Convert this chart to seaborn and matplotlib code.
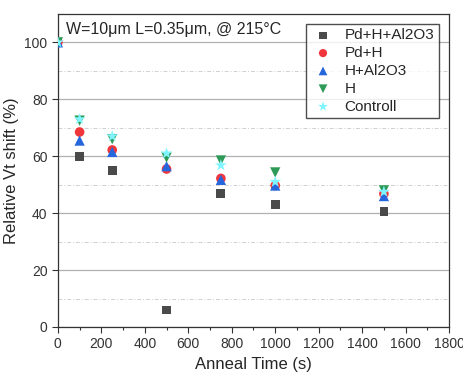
import numpy as np
import pandas as pd
import matplotlib
matplotlib.use("Agg")
import matplotlib.pyplot as plt
import seaborn as sns
from matplotlib.ticker import MultipleLocator

times = [0, 100, 250, 500, 750, 1000, 1500]
pd_h_al2o3 = [100, 60, 55, 6, 47, 43, 40.5]
pd_h = [100, 68.5, 62.2, 55.5, 52.2, 49.7, 46.8]
h_al2o3 = [100, 65.5, 61.5, 56.5, 51.7, 49.7, 46.0]
h_only = [100, 72.5, 66, 59.5, 58.5, 54.3, 48.0]
controll = [100, 73, 67, 61, 56.8, 51, 47.5]

series_names = ["Pd+H+Al2O3", "Pd+H", "H+Al2O3", "H", "Controll"]
series_vals = [pd_h_al2o3, pd_h, h_al2o3, h_only, controll]
colors = ["#4a4a4a", "#f0353b", "#2566dc", "#2e9a57", "#80f5ff"]
markers = ["s", "o", "^", "v", "*"]
sizes = [40, 48, 55, 55, 80]

rows = []
for name, vals in zip(series_names, series_vals):
    for t, v in zip(times, vals):
        rows.append({"time": t, "shift": v, "sample": name})
df = pd.DataFrame(rows)

sns.set_theme(style="white")
plt.rcParams['font.family'] = ['Liberation Sans', 'DejaVu Sans']

fig = plt.figure(figsize=(4.63, 3.75), dpi=100)
ax = fig.add_axes([0.125, 0.128, 0.845, 0.835])

ax.yaxis.set_minor_locator(MultipleLocator(10))
ax.xaxis.set_minor_locator(MultipleLocator(100))
ax.grid(which="major", axis="y", color="#b0b0b0", lw=0.9, ls="-", zorder=0)
ax.grid(which="minor", axis="y", color="#d0d0d0", lw=0.7, ls=(0, (4, 2, 1, 2)), zorder=0)
ax.set_axisbelow(True)

for name, c, m, s in zip(series_names, colors, markers, sizes):
    sns.scatterplot(data=df[df["sample"] == name], x="time", y="shift",
                    color=c, marker=m, s=s, edgecolor="none", label=name,
                    ax=ax, zorder=3)

ax.set_xlim(0, 1800)
ax.set_ylim(0, 110)
ax.xaxis.set_major_locator(MultipleLocator(200))
ax.yaxis.set_major_locator(MultipleLocator(20))
ax.tick_params(axis="both", which="major", direction="out", length=4, width=0.8,
               labelsize=10, color="#333333", labelcolor="#333333",
               bottom=True, left=True)
ax.tick_params(axis="both", which="minor", direction="out", length=2, width=0.8,
               color="#333333", bottom=True, left=True)
ax.tick_params(axis="y", which="minor", left=False)
for sp in ax.spines.values():
    sp.set_color("#333333")
    sp.set_linewidth(0.9)

ax.set_xlabel("Anneal Time (s)", fontsize=12)
ax.set_ylabel("Relative Vt shift (%)", fontsize=12)

ax.text(0.02, 0.975, "W=10\u03bcm L=0.35\u03bcm, @ 215\u00b0C", transform=ax.transAxes,
        ha="left", va="top", fontsize=11.5)

leg = ax.legend(loc="upper right", bbox_to_anchor=(0.993, 0.993), frameon=True,
                fancybox=False, edgecolor="#222222", fontsize=11,
                handletextpad=0.6, borderpad=0.3, labelspacing=0.25,
                markerscale=0.85, handlelength=1.6)
leg.get_frame().set_linewidth(1.0)

fig.savefig("out.png", dpi=100)
